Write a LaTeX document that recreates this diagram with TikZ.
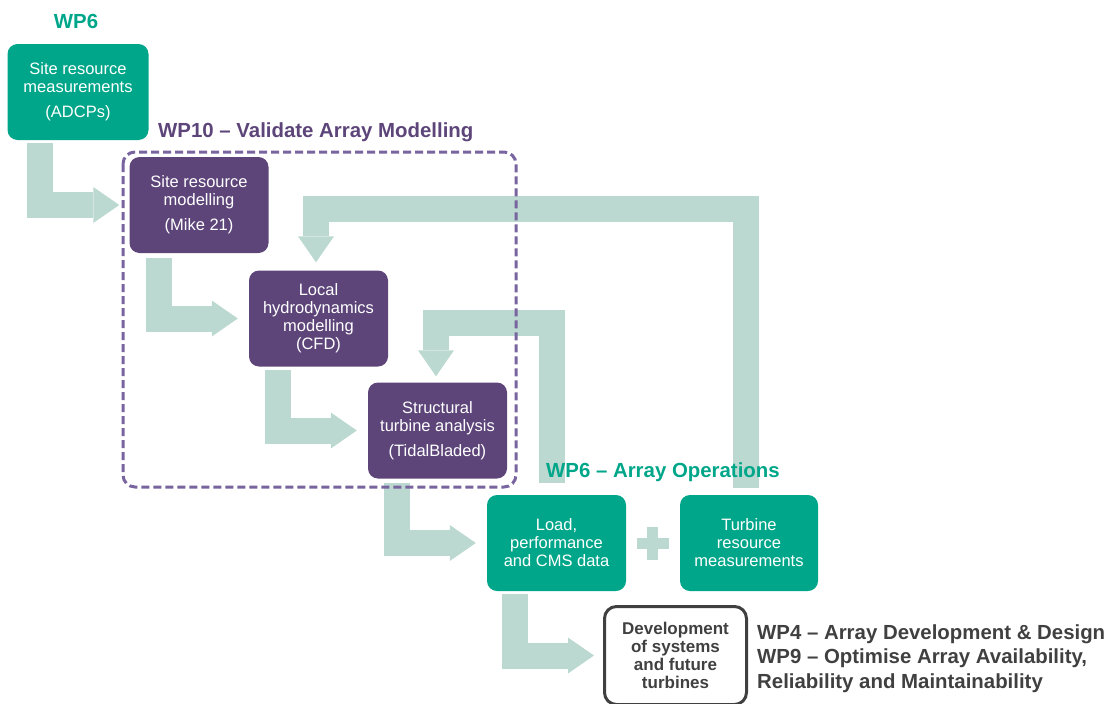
\documentclass[tikz,border=0pt]{standalone}
\usepackage{fontspec}
\setmainfont{Liberation Sans}
\usetikzlibrary{calc,arrows.meta,backgrounds}

\definecolor{wpteal}{RGB}{0,166,137}
\definecolor{wppurple}{RGB}{93,69,122}
\definecolor{rahmen}{RGB}{120,100,158}
\definecolor{pfeil}{RGB}{187,217,208}
\definecolor{dunkel}{RGB}{64,64,64}

\tikzset{
  kasten/.style={rounded corners=10pt, minimum width=139pt, minimum height=96pt,
    align=center, text=white, inner sep=0pt, font=\fontsize{16.5}{18}\selectfont},
  tealbox/.style={kasten, fill=wpteal},
  lilabox/.style={kasten, fill=wppurple},
  pfeilweg/.style={draw=pfeil, line width=26pt, line join=miter,
    -{Triangle[length=26pt,width=36pt,line width=0pt]}},
  titel/.style={font=\bfseries\fontsize{20.4}{24.5}\selectfont, inner sep=0pt},
}

\begin{document}
\begin{tikzpicture}[x=1pt,y=-1pt] % 1pt = 1 Pixel, y nach unten
\useasboundingbox (0,0) rectangle (1114,704);

%KASTEN WP6 (links oben)
\node[titel, text=wpteal] (wp6) at (76,21) {WP6};
\node[tealbox, minimum width=141pt] (s0) at (78,92) {Site resource\\measurements\\[7pt](ADCPs)};

%RAHMEN WP10
\node[titel, text=wppurple, anchor=west] (wp10) at (158,132) {WP10 – Validate Array Modelling};
\draw [rahmen, line width=3pt, dash pattern=on 8pt off 4pt, rounded corners=12pt] (123,152) rectangle (516,487);

%KASTEN IN WP10 (von oben)
\node[lilabox] (m1) at (199,205) {Site resource\\modelling\\[7pt](Mike 21)};
\node[lilabox] (m2) at (318.5,318.5) {Local\\hydrodynamics\\modelling\\(CFD)};
\node[lilabox] (m3) at (437.5,430.5) {Structural\\turbine analysis\\[7pt](TidalBladed)};

%KASTEN WP6 ARRAY OPERATIONS
\node[titel, text=wpteal, anchor=west] (wp6ops) at (546,472) {WP6 – Array Operations};
\node[tealbox] (load) at (556.5,543) {Load,\\performance\\and CMS data};
\node[tealbox, minimum width=138pt] (turb) at (749,543) {Turbine\\resource\\measurements};
\fill [pfeil] (647,527) rectangle (658,560);
\fill [pfeil] (637,538) rectangle (669,549);

%KASTEN UNTEN
\node[draw=dunkel, line width=3pt, rounded corners=12pt, minimum width=142pt, minimum height=98pt,
  align=center, text=dunkel, inner sep=0pt, font=\bfseries\fontsize{17}{18}\selectfont] (dev) at (675.5,655.5)
  {Development\\of systems\\and future\\turbines};
\node[titel, text=dunkel, anchor=west, align=left] (wpziel) at (757,658.5)
  {WP4 – Array Development \& Design\\WP9 – Optimise Array Availability,\\Reliability and Maintainability};

%PFEILE
\begin{scope}[on background layer]
\draw [pfeilweg] ([xshift=-38pt,yshift=-3pt]s0.south) |- ([xshift=-10pt]m1.west);
\draw [pfeilweg] ([xshift=-40pt,yshift=-5pt]m1.south) |- ([xshift=-11pt]m2.west);
\draw [pfeilweg] ([xshift=-40.5pt,yshift=-3pt]m2.south) |- ([xshift=-11pt]m3.west);
\draw [pfeilweg] ([xshift=-40.5pt,yshift=-4pt]m3.south) |- ([xshift=-11pt]load.west);
\draw [pfeilweg] ([xshift=-41.5pt,yshift=-3pt]load.south) |- ([xshift=-9pt]dev.west);

%RUECKFUEHRUNG
\draw [pfeilweg] ([xshift=-4.5pt,yshift=12pt]load.north) -- ++(0,-160) -| ([xshift=-1.5pt,yshift=6pt]m3.north);
\draw [pfeilweg] ([xshift=-3pt,yshift=7pt]turb.north) -- ++(0,-279) -| ([xshift=-2.5pt,yshift=8pt]m2.north);
\end{scope}

\end{tikzpicture}
\end{document}
